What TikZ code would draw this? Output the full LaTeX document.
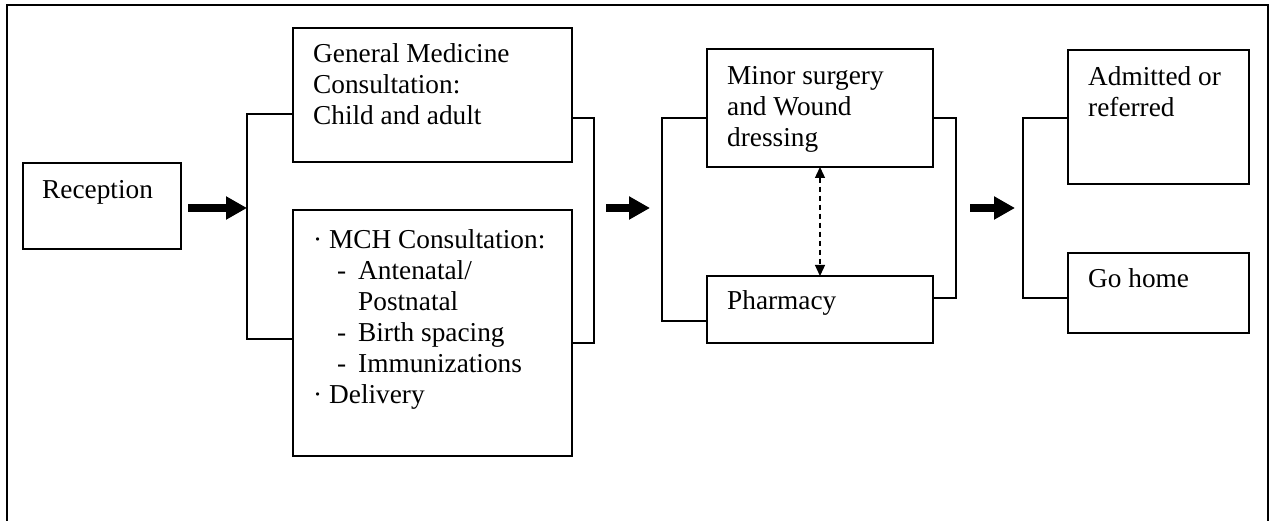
\documentclass[tikz,border=0pt]{standalone}
\usepackage{fontspec}
\setmainfont{Liberation Serif}
\usetikzlibrary{arrows.meta}
\begin{document}
\begin{tikzpicture}[x=1pt,y=-1pt,
  box/.style={draw,line width=1.5pt,inner sep=0pt,outer sep=0pt},
  % multi-line labels are placed by the baseline of their last line
  txt/.style={anchor=base west,align=left,inner sep=0pt,
    font=\fontsize{27.3}{31}\selectfont},
  link/.style={line width=1.2pt},
  bigarrow/.style={line width=8pt,-{Triangle[length=21pt,width=22pt]}},
  swap/.style={line width=1.3pt,dash pattern=on 5pt off 4pt,
    {Triangle[length=11pt,width=10pt]}-{Triangle[length=11pt,width=10pt]}}]
\useasboundingbox (0,0) rectangle (1272,521);
% outer frame (open at the bottom edge)
\draw[line width=1.5pt] (7,521) -- (7,5) -- (1268,5) -- (1268,521);

% boxes
\node[box,minimum width=158pt,minimum height=86pt]  (rec)   at (102,206)    {};
\node[box,minimum width=279pt,minimum height=134pt] (gm)    at (432.5,95)   {};
\node[box,minimum width=279pt,minimum height=246pt] (mch)   at (432.5,333)  {};
\node[box,minimum width=226pt,minimum height=118pt] (minor) at (820,108)    {};
\node[box,minimum width=226pt,minimum height=67pt]  (pharm) at (820,309.5)  {};
\node[box,minimum width=181pt,minimum height=134pt] (adm)   at (1158.5,117) {};
\node[box,minimum width=181pt,minimum height=80pt]  (home)  at (1158.5,293) {};

% labels
\node[txt] (recT)   at (42,199)   {Reception};
\node[txt] (gmT)    at (313,125)  {General Medicine\\Consultation:\\Child and adult};
\node[txt] (mchT)   at (313,403)  {\makebox[16pt][l]{·}MCH Consultation:\\
  \hspace*{24pt}\makebox[21pt][l]{-}Antenatal/\\
  \hspace*{45pt}Postnatal\\
  \hspace*{24pt}\makebox[21pt][l]{-}Birth spacing\\
  \hspace*{24pt}\makebox[21pt][l]{-}Immunizations\\
  \makebox[16pt][l]{·}Delivery};
\node[txt] (minorT) at (727,147)  {Minor surgery\\and Wound\\dressing};
\node[txt] (pharmT) at (727,310)  {Pharmacy};
\node[txt] (admT)   at (1088,117) {Admitted or\\referred};
\node[txt] (homeT)  at (1088,288) {Go home};

% junction points of the brackets
\coordinate (j1) at (247,208);
\coordinate (k1) at (594,208);
\coordinate (j2) at (662,208);
\coordinate (k2) at (956,208);
\coordinate (j3) at (1023,208);

% brackets
\draw[link] (gm.west |- 0,114) -| (j1) |- (mch.west |- 0,339);
\draw[link] (gm.east |- 0,118) -| (k1) |- (mch.east |- 0,343);
\draw[link] (minor.west |- 0,118) -| (j2) |- (pharm.west |- 0,321);
\draw[link] (minor.east |- 0,118) -| (k2) |- (pharm.east |- 0,298);
\draw[link] (adm.west |- 0,118) -| (j3) |- (home.west |- 0,298);

% flow arrows
\draw[bigarrow,shorten <=7pt] (rec.east |- j1) -- (j1);
\draw[bigarrow,shorten <=12pt,shorten >=12pt] (k1) -- (j2);
\draw[bigarrow,shorten <=14pt,shorten >=8pt] (k2) -- (j3);

% two-way link between surgery and pharmacy
\draw[swap] (minor.south) -- (pharm.north);
\end{tikzpicture}
\end{document}
